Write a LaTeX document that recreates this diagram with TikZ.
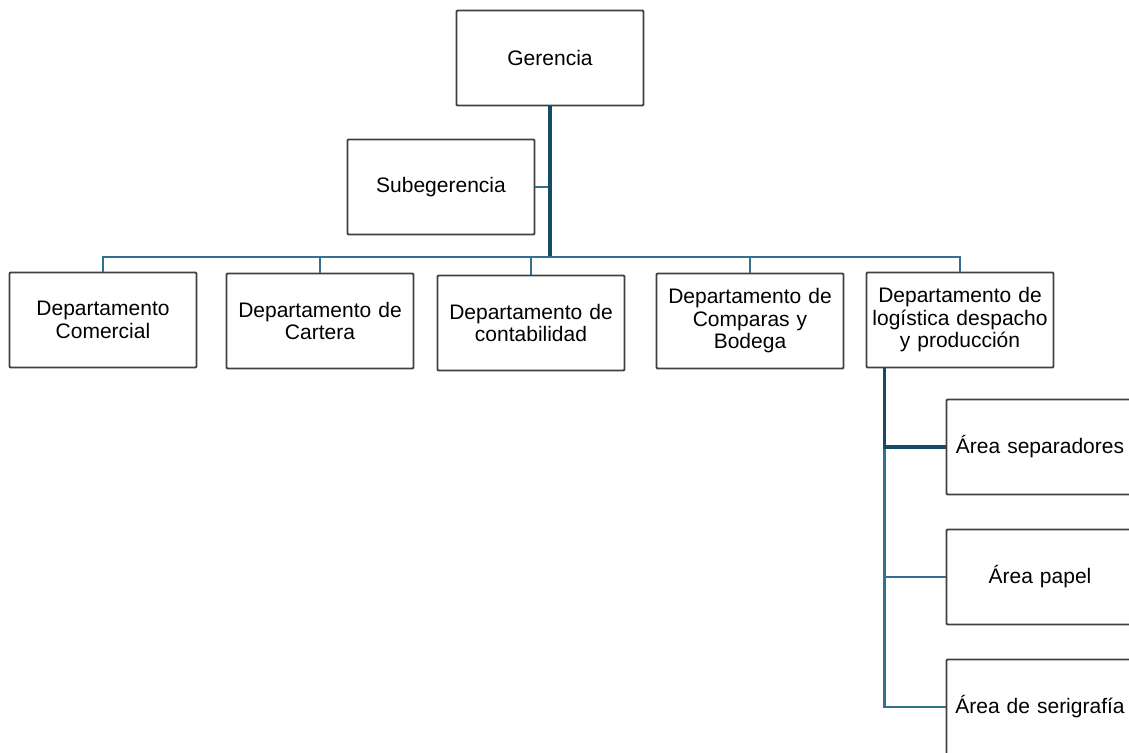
\documentclass[tikz,border=0pt]{standalone}
\usepackage{fontspec}
\setmainfont{Liberation Sans}
\usetikzlibrary{positioning}
\definecolor{orgline}{HTML}{33708F}
\definecolor{orgtrunk}{HTML}{174A68}
\tikzset{
	unit/.style={draw=black!75, line width=1.8pt, rectangle, rounded corners=1pt, inner sep=1pt, minimum width=185pt, minimum height=95pt, text width=185pt, align=center, font=\fontsize{21}{22.5}\selectfont},
	% connectors between the boxes
	branch/.style={orgline, line width=2.8pt},
	trunk/.style={orgtrunk, line width=4.5pt},
}

\begin{document}
\begin{tikzpicture}[x=1pt, y=-1pt]
\useasboundingbox (0,0) rectangle (1129,752);

\node (ger) [unit] at (550,58) {Gerencia};

\node (sub) [unit] at (441,187) {Subegerencia};

\node (com) [unit] at (103,320) {Departamento\\Comercial};
\node (cart) [unit] at (320,321) {Departamento de\\Cartera};
\node (cont) [unit] at (531,323) {Departamento de\\contabilidad};
\node (comp) [unit] at (750,321) {Departamento de\\Comparas y\\Bodega};
\node (log) [unit] at (960,320) {Departamento de\\log\'istica despacho\\y producci\'on};

\node (sep) [unit] at (1040,447) {\'Area separadores};
\node (pap) [unit] at (1040,577) {\'Area papel};
\node (seri) [unit] at (1040,707) {\'Area de serigraf\'ia};

\coordinate (bus) at (550,257);
\coordinate (spine) at ([xshift=19pt]log.south west);

\begin{scope}[branch]
	\draw (com.north) |- (bus) -| (log.north);
	\draw (cart.north) -- (cart.north |- bus);
	\draw (cont.north) -- (cont.north |- bus);
	\draw (comp.north) -- (comp.north |- bus);
	\draw (sub.east) -- (sub.east -| bus);
	\draw (spine) |- (pap.west);
	\draw (spine) |- (seri.west);
\end{scope}
\draw [trunk] (ger.south) -- ([yshift=1.5pt]bus);
\draw [orgtrunk, line width=3.2pt] (spine) |- (sep.west);
\end{tikzpicture}
\end{document}
